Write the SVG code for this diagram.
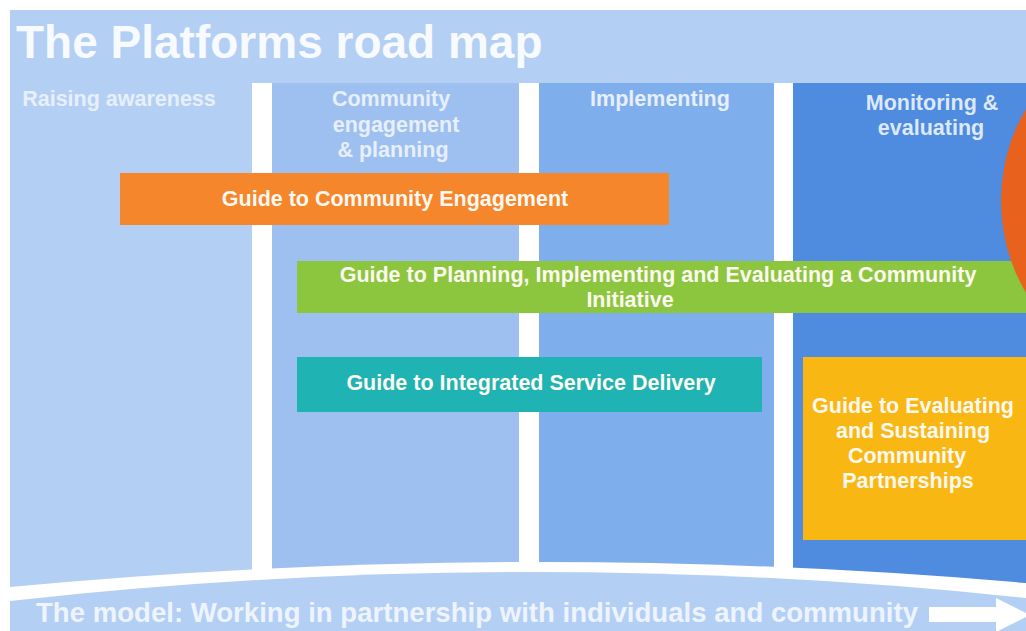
<svg xmlns="http://www.w3.org/2000/svg" width="1026" height="631" viewBox="0 0 1026 631">
<style>
text{font-family:"Liberation Sans",Arial,sans-serif;font-weight:bold}
.head{font-size:21.5px;fill:#e7effb;text-anchor:middle}
.box{font-size:21.5px;fill:#fdf8f0;text-anchor:middle}
.sep{fill:#ffffff}
</style>
<rect x="0" y="0" width="1026" height="631" fill="#ffffff"/>
<g id="background">
<rect x="10" y="10" width="1016" height="621" fill="#b4cff4"/>
<text x="16" y="58" style="font-size:46px;fill:#f7faff">The Platforms road map</text>
</g>
<g id="col-raising-awareness">
<text class="head" x="119" y="106">Raising awareness</text>
</g>
<g id="col-community-engagement">
<rect x="272" y="83" width="247" height="520" fill="#9dc0f0"/>
<text class="head" x="391" y="106">Community</text>
<text class="head" x="396" y="132">engagement</text>
<text class="head" x="393" y="157">&amp; planning</text>
</g>
<g id="col-implementing">
<rect x="539" y="83" width="235" height="520" fill="#7faeec"/>
<text class="head" x="660" y="106">Implementing</text>
</g>
<g id="col-monitoring">
<rect x="793" y="83" width="233" height="520" fill="#4f8bde"/>
<text class="head" x="932" y="110" style="fill:#dde9f9">Monitoring &amp;</text>
<text class="head" x="931" y="135" style="fill:#dde9f9">evaluating</text>
</g>
<g id="separators">
<rect class="sep" x="252" y="83" width="20" height="520"/>
<rect class="sep" x="519" y="83" width="20" height="520"/>
<rect class="sep" x="774" y="83" width="19" height="520"/>
<path d="M10,587 Q518,539 1026,583 L1026,631 L10,631 Z" fill="#ffffff"/>
<path d="M10,601 Q518,544.5 1026,598 L1026,631 L10,631 Z" fill="#b4cff4"/>
</g>
<g id="guide-community-engagement">
<rect x="120" y="173" width="549" height="52" fill="#f5862b"/>
<text class="box" x="395" y="206">Guide to Community Engagement</text>
</g>
<g id="guide-planning">
<rect x="297" y="261" width="729" height="52" fill="#8cc63f"/>
<text class="box" x="658" y="282">Guide to Planning, Implementing and Evaluating a Community</text>
<text class="box" x="630" y="307">Initiative</text>
</g>
<g id="orange-circle">
<circle cx="1183" cy="201" r="182" fill="#e8621d"/>
</g>
<g id="guide-integrated-service">
<rect x="297" y="357" width="465" height="55" fill="#20b3b3"/>
<text class="box" x="531" y="390">Guide to Integrated Service Delivery</text>
</g>
<g id="guide-evaluating-sustaining">
<rect x="803" y="357" width="223" height="183" fill="#f9b713"/>
<text class="box" x="913" y="413">Guide to Evaluating</text>
<text class="box" x="913" y="438">and Sustaining</text>
<text class="box" x="907" y="463">Community</text>
<text class="box" x="908" y="488">Partnerships</text>
</g>
<g id="connectors">
<polygon points="929,607 996,607 996,598 1030,615 996,632 996,622 929,622" fill="#ffffff"/>
</g>
<g id="model-label">
<text x="36" y="622" textLength="882" lengthAdjust="spacingAndGlyphs" style="font-size:28px;fill:#eef4fd">The model: Working in partnership with individuals and community</text>
</g>
</svg>
